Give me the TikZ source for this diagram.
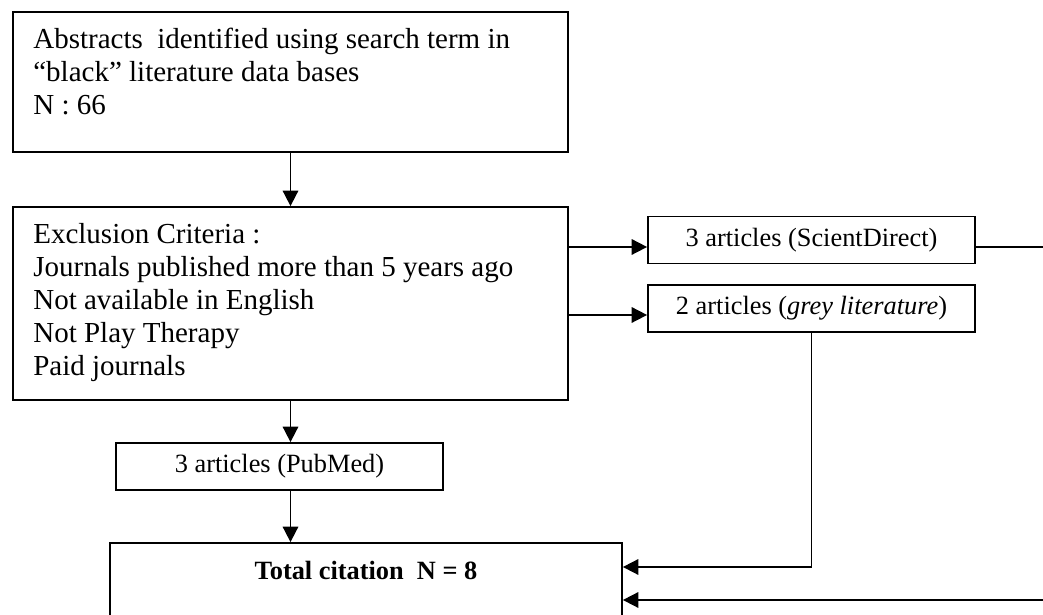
\documentclass[tikz,border=0pt]{standalone}
\usepackage{fontspec}
\setmainfont{Liberation Serif}
\usetikzlibrary{arrows.meta}

\begin{document}
\begin{tikzpicture} [scale = 1, >={Triangle[length = 0.31cm, width = 0.31cm]},
  box/.style = {draw = black, line width = 1pt, rectangle, inner sep = 0},
  bigtext/.style = {black, align = left, inner sep = 0, anchor = north west, font = \fontsize{16.5}{18.8}\selectfont},
  smalltext/.style = {box, font = \fontsize{15}{17}\selectfont, minimum width = 6.54cm, minimum height = 0.94cm}]
\useasboundingbox (0, 0) rectangle (20.86, 12.3);
\node[box, minimum width = 11.1cm, minimum height = 2.8cm] (abstracts) at (5.81, 10.66){};
\node[bigtext] (abstractstext) at (0.66, 11.80){\strut Abstracts\ \ identified using search term in\\ ``black'' literature data bases\\ N : 66};
\node[box, minimum width = 11.1cm, minimum height = 3.86cm] (exclusion) at (5.81, 6.23){};
\node[bigtext] (criteria) at (0.66, 7.90){\strut Exclusion Criteria :\\ Journals published more than 5 years ago\\ Not available in English\\ Not Play Therapy\\ Paid journals};
\node[smalltext] (sd) at (16.23, 7.5){3 articles (ScientDirect)};
\node[smalltext] (grey) at (16.23, 6.13){2 articles (\textit{grey literature})};
\node[smalltext] (pubmed) at (5.59, 2.97){3 articles (PubMed)};
\node[box, minimum width = 10.24cm, minimum height = 1.94cm] (total) at (7.32, 0.47){};
\node[black, anchor = base, font = \fontsize{15}{17}\selectfont\bfseries] (totaltext) at (7.32, 0.70){Total citation\ \ N = 8};
\coordinate (sdin) at ([yshift = -0.14cm]sd.west);
\coordinate (sdout) at ([yshift = -0.14cm]sd.east);
\coordinate (greyin) at ([yshift = -0.13cm]grey.west);
\coordinate (sdturn) at (20.95, 7.36);
\coordinate (totalgrey) at ([yshift = 0.49cm]total.east);
\coordinate (totalsd) at ([yshift = -0.17cm]total.east);
\draw[black, ->, line width = 1pt] (abstracts.south) -- (exclusion.north);
\draw[black, ->, line width = 1pt] (sdin -| exclusion.east) -- (sdin);
\draw[black, ->, line width = 1pt] (greyin -| exclusion.east) -- (greyin);
\draw[black, ->, line width = 1pt] (exclusion.south) -- (exclusion.south |- pubmed.north);
\draw[black, ->, line width = 1pt] (exclusion.south |- pubmed.south) -- (exclusion.south |- total.north);
\draw[black, ->, line width = 1pt] (grey.south) |- (totalgrey);
\draw[black, ->, line width = 1pt] (sdout) -- (sdturn) |- (totalsd);
\end{tikzpicture}
\end{document}
